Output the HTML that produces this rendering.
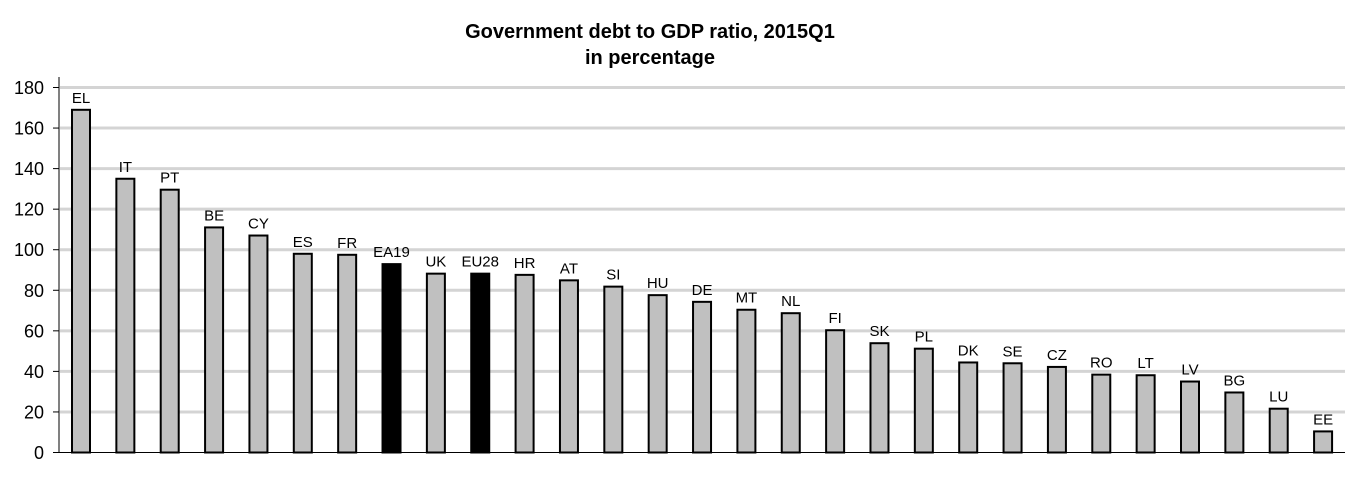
<!DOCTYPE html>
<html><head><meta charset="utf-8"><style>
body{margin:0;background:#fff;}
svg text{font-family:"Liberation Sans",Arial,sans-serif;}
</style></head><body>
<svg id="chart" width="1365" height="480" xmlns="http://www.w3.org/2000/svg">
<text x="650" y="38" text-anchor="middle" font-size="20" font-weight="bold">Government debt to GDP ratio, 2015Q1</text>
<text x="650" y="64" text-anchor="middle" font-size="20" font-weight="bold">in percentage</text>
<g id="grid"></g>
<g id="axis"></g>
<g id="bars"></g>
</svg>
<script>
const categories=["EL","IT","PT","BE","CY","ES","FR","EA19","UK","EU28","HR","AT","SI","HU","DE","MT","NL","FI","SK","PL","DK","SE","CZ","RO","LT","LV","BG","LU","EE"];
const values=[169,135,129.6,111,107,98,97.5,92.9,88.2,88.2,87.6,84.9,81.8,77.6,74.3,70.4,68.7,60.3,53.9,51.2,44.4,44,42.2,38.4,38.1,35,29.6,21.6,10.4];
const highlighted=["EA19","EU28"];
const yTicks=[0,20,40,60,80,100,120,140,160,180];
const NS="http://www.w3.org/2000/svg";
const y0=452.5,yTop=87.5,yMax=180;
function y(v){return y0-(v/yMax)*(y0-yTop);}
function x(i){return 81+i*44.36;}
function mk(t,a,p){const e=document.createElementNS(NS,t);for(const k in a)e.setAttribute(k,a[k]);p.appendChild(e);return e;}
const grid=document.getElementById('grid'),axis=document.getElementById('axis'),bars=document.getElementById('bars');
yTicks.forEach(t=>{
  if(t>0){const g=mk('line',{x1:60,x2:1345,y1:y(t),y2:y(t),stroke:'#d4d4d4','stroke-width':3},grid);
  
  }
  const tk=mk('line',{x1:53,x2:59,y1:y(t),y2:y(t),stroke:'#000','stroke-width':1},axis);
  
  
  const lb=mk('text',{x:44,y:y(t)+6.5,'text-anchor':'end','font-size':18},axis);
  lb.textContent=t;
  
  
});
const al=mk('line',{x1:59,x2:59,y1:77,y2:y0,stroke:'#000','stroke-width':1},axis);


const xl=mk('line',{x1:59,x2:1345,y1:y0,y2:y0,stroke:'#000','stroke-width':1},axis);


categories.forEach((c,i)=>{
  const hl=highlighted.includes(c);
  const r=mk('rect',{x:x(i)-9,y:y(values[i]),width:18,height:y0-y(values[i]),fill:hl?'#000':'#c0c0c0',stroke:'#000','stroke-width':2},bars);
  
  
  const t=mk('text',{x:x(i),y:y(values[i])-7,'text-anchor':'middle','font-size':15},bars);
  t.textContent=c;
  
  
});
</script>
</body></html>
